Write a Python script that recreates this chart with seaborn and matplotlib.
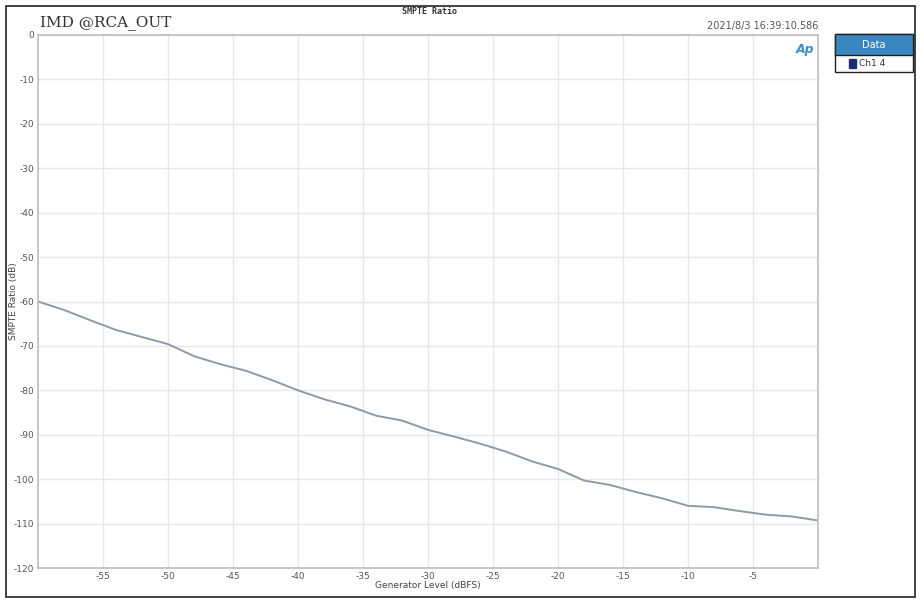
"""
SMPTE IMD ratio vs generator level
"""
import matplotlib.pyplot as plt
import matplotlib.patches as mpatches
import pandas as pd
import seaborn as sns

# generator level (dBFS) and measured SMPTE ratio (dB)
gen_level = [-60, -58, -56, -54, -52, -50, -48, -46, -44, -42, -40,
             -38, -36, -34, -32, -30, -28, -26, -24, -22, -20,
             -18, -16, -14, -12, -10, -8, -6, -4, -2, 0]
smpte_ratio = [-60.0, -61.9, -64.2, -66.4, -68.0, -69.6, -72.3, -74.1,
               -75.6, -77.7, -80.0, -82.0, -83.6, -85.7, -86.8, -88.9,
               -90.4, -92.0, -93.8, -96.0, -97.7, -100.3, -101.3, -102.9,
               -104.3, -106.0, -106.3, -107.2, -108.0, -108.4, -109.3]
x_ticks = [-55, -50, -45, -40, -35, -30, -25, -20, -15, -10, -5]
y_ticks = [0, -10, -20, -30, -40, -50, -60, -70, -80, -90, -100, -110, -120]

df = pd.DataFrame({"level": gen_level, "ratio": smpte_ratio})

sns.set_style("white")
plt.rcParams["font.family"] = ["DejaVu Sans"]
plt.rcParams["axes.unicode_minus"] = False

W, H = 921, 601
fig = plt.figure(figsize=(W / 100, H / 100), dpi=100)
ax = fig.add_axes([38 / W, 1 - 568 / H, 780 / W, 533 / H])

sns.lineplot(data=df, x="level", y="ratio", ax=ax, color="#8e9aa6", lw=1.4)

ax.set_xlim(-60, 0)
ax.set_ylim(-120, 0)
ax.set_xticks(x_ticks)
ax.set_yticks(y_ticks)
ax.grid(True, color="#e8e8e8", lw=1)
ax.tick_params(axis="both", labelsize=6.5, colors="#555555", length=0, pad=3)
for side in ["left", "bottom", "top", "right"]:
    ax.spines[side].set_color("#bdbdbd")
    ax.spines[side].set_linewidth(1.2)
ax.set_xlabel("Generator Level (dBFS)", fontsize=6.5, color="#444444", labelpad=0)
ax.set_ylabel("SMPTE Ratio (dB)", fontsize=6.5, color="#444444")
ax.yaxis.set_label_coords(-20 / 780, 0.5)

# headings
fig.text(429 / W, 1 - 11 / H, "SMPTE Ratio", fontsize=6, family="monospace",
         weight="bold", ha="center", va="center", color="#333333")
fig.text(40 / W, 1 - 23 / H, "IMD @RCA_OUT", fontsize=11, family="serif",
         ha="left", va="center", color="#333333")
fig.text(818 / W, 1 - 26 / H, "2021/8/3 16:39:10.586", fontsize=7,
         ha="right", va="center", color="#555555")
fig.text(805 / W, 1 - 50 / H, "Ap", fontsize=9, style="italic", weight="bold",
         ha="center", va="center", color="#3a8fd0")

# legend box on the right
fig.patches.append(mpatches.Rectangle((835 / W, 1 - 72 / H), 78 / W, 38 / H,
                                      transform=fig.transFigure, fc="white",
                                      ec="#222222", lw=1))
fig.patches.append(mpatches.Rectangle((835 / W, 1 - 55 / H), 78 / W, 21 / H,
                                      transform=fig.transFigure, fc="#3a87c0",
                                      ec="#222222", lw=1))
fig.text(874 / W, 1 - 44.5 / H, "Data", fontsize=7, color="white",
         ha="center", va="center")
fig.patches.append(mpatches.Rectangle((849 / W, 1 - 68 / H), 7 / W, 9 / H,
                                      transform=fig.transFigure, fc="#1b2b78",
                                      ec="#1b2b78"))
fig.text(859 / W, 1 - 64 / H, "Ch1 4", fontsize=6.5, color="#333333",
         ha="left", va="center")

# outer frame
fig.patches.append(mpatches.Rectangle((6 / W, 1 - 597 / H), 909 / W, 591 / H,
                                      transform=fig.transFigure, fill=False,
                                      ec="#222222", lw=1.2))

fig.savefig("out.png", dpi=100)
